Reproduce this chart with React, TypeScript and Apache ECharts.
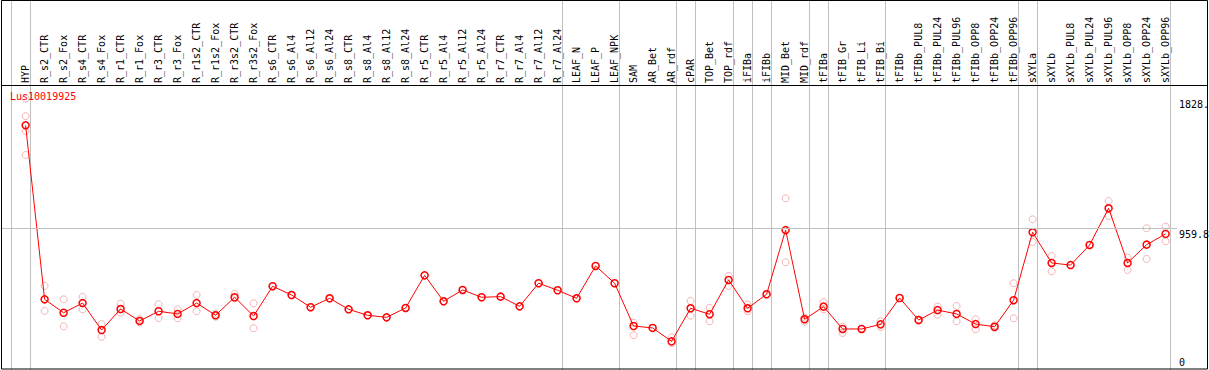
import React, { useEffect, useRef } from 'react';
import * as echarts from 'echarts';

const geneName = 'Lus10019925';

const categories = [
  'HYP', 'R_s2_CTR', 'R_s2_Fox', 'R_s4_CTR', 'R_s4_Fox', 'R_r1_CTR', 'R_r1_Fox', 'R_r3_CTR', 'R_r3_Fox',
  'R_r1s2_CTR', 'R_r1s2_Fox', 'R_r3s2_CTR', 'R_r3s2_Fox', 'R_s6_CTR', 'R_s6_Al4', 'R_s6_Al12', 'R_s6_Al24',
  'R_s8_CTR', 'R_s8_Al4', 'R_s8_Al12', 'R_s8_Al24', 'R_r5_CTR', 'R_r5_Al4', 'R_r5_Al12', 'R_r5_Al24',
  'R_r7_CTR', 'R_r7_Al4', 'R_r7_Al12', 'R_r7_Al24', 'LEAF_N', 'LEAF_P', 'LEAF_NPK', 'SAM', 'AR_Bet', 'AR_rdf',
  'cPAR', 'TOP_Bet', 'TOP_rdf', 'iFIBa', 'iFIBb', 'MID_Bet', 'MID_rdf', 'tFIBa', 'tFIB_Gr', 'tFIB_Li', 'tFIB_Bi',
  'tFIBb', 'tFIBb_PUL8', 'tFIBb_PUL24', 'tFIBb_PUL96', 'tFIBb_OPP8', 'tFIBb_OPP24', 'tFIBb_OPP96',
  'sXYLa', 'sXYLb', 'sXYLb_PUL8', 'sXYLb_PUL24', 'sXYLb_PUL96', 'sXYLb_OPP8', 'sXYLb_OPP24', 'sXYLb_OPP96',
];

const means = [
  1649, 481, 391, 456, 275, 416, 336, 401, 383,
  456, 374, 495, 369, 569, 510, 428, 488,
  414, 374, 360, 423, 642, 468, 544, 495,
  499, 434, 589, 542, 488, 705, 589, 302, 289, 199,
  421, 381, 611, 421, 515, 946, 347, 432, 282, 282, 313,
  490, 342, 409, 383, 315, 297, 475,
  931, 725, 711, 846, 1092, 725, 848, 920,
];

const replicates = [
  [1828.2, 1710, 1611, 1450], [571, 403], [481, 300], [497, 414], [315, 230], [452, 391], [349, 327], [448, 356], [414, 354],
  [510, 401], [383, 364], [517, 488], [454, 287], [569], [510], [428], [488],
  [414], [374], [360], [423], [642], [468], [544], [495],
  [499], [434], [589], [542], [488], [705], [589], [324, 240], [289], [226, 186],
  [470, 371], [423, 334], [638, 571], [445, 401], [515], [1159, 730], [358, 331], [463, 414], [255, 297], [282], [334, 295],
  [490], [338, 346], [432, 378], [436, 334], [347, 280], [307, 289], [589, 354],
  [1018, 866], [772, 669], [711], [846], [1141, 1040], [760, 678], [958, 752], [969, 871],
];

// indices of the last category of each group (-1 = before the first one)
const groupEnds = [-1, 0, 28, 31, 34, 35, 37, 38, 39, 41, 42, 45, 52, 53, 60];

const FONT = 'DejaVu Sans Mono, monospace';

export default function App() {
  const ref = useRef<HTMLDivElement>(null);

  useEffect(() => {
    const chart = echarts.init(ref.current!, null, { renderer: 'svg' });
    const maxVal = Math.max(...replicates.flat(), ...means);
    const yTop = maxVal * 1.05;
    const yLabels = [0, yTop / 2, maxVal];
    const fmtY = (v: number) => (v === 0 ? '{lo|0}' : `{hi|${String(v).slice(0, 5)}}`);

    const repData: number[][] = [];
    replicates.forEach((arr, i) => arr.forEach((v) => repData.push([i, v])));

    chart.setOption({
      animation: false,
      textStyle: { fontFamily: FONT },
      title: {
        text: geneName,
        left: 10,
        top: 91,
        padding: 0,
        textStyle: { color: '#ff0000', fontSize: 10, fontWeight: 'normal', fontFamily: FONT },
      },
      grid: {
        left: 2.04,
        top: 85,
        width: 1174.96,
        height: 286,
        containLabel: false,
        outerBoundsMode: 'none',
      },
      xAxis: {
        type: 'value',
        position: 'top',
        min: -1.24,
        max: 60.6,
        axisLine: { show: false },
        axisTick: { show: false },
        splitLine: { show: false },
        axisLabel: {
          customValues: categories.map((_, i) => i),
          formatter: (v: number) => categories[Math.round(v)] ?? '',
          rotate: 90,
          margin: 2,
          color: '#000',
          fontSize: 10,
          fontFamily: FONT,
        },
      },
      yAxis: {
        type: 'value',
        position: 'right',
        min: 0,
        max: yTop,
        axisLine: { show: false },
        axisTick: { show: false },
        splitLine: { show: false },
        axisLabel: {
          customValues: yLabels,
          formatter: fmtY,
          margin: 2,
          color: '#000',
          fontSize: 10,
          fontFamily: FONT,
          rich: {
            hi: { padding: [12, 0, 0, 0], fontSize: 10, fontFamily: FONT, color: '#000' },
            lo: { padding: [0, 0, 18, 0], fontSize: 10, fontFamily: FONT, color: '#000' },
          },
        },
      },
      graphic: [
        {
          type: 'line',
          silent: true,
          z: 50,
          shape: { x1: 1, y1: 85.5, x2: 1208, y2: 85.5 },
          style: { stroke: '#000', lineWidth: 1 },
        },
        {
          type: 'rect',
          silent: true,
          z: 50,
          shape: { x: 1.5, y: 0.5, width: 1206, height: 368.5 },
          style: { fill: 'none', stroke: '#000', lineWidth: 1 },
        },
      ],
      series: [
        {
          type: 'custom',
          silent: true,
          z: 1,
          clip: false,
          data: groupEnds.map((i) => [i + 0.25, 0]),
          encode: { x: 0, y: 1 },
          renderItem: (_params: any, api: any) => {
            const x = api.coord([api.value(0), 0])[0];
            const px = Math.floor(x) + 0.5;
            return {
              type: 'line',
              shape: { x1: px, y1: 0, x2: px, y2: 370 },
              style: { stroke: '#c0c0c0', lineWidth: 1 },
            };
          },
        },
        {
          type: 'scatter',
          silent: true,
          z: 2,
          data: repData,
          symbol: 'circle',
          symbolSize: 7,
          itemStyle: { color: 'rgba(0,0,0,0)', borderColor: '#f0a0a0', borderWidth: 1 },
          markLine: {
            silent: true,
            symbol: ['none', 'none'],
            label: { show: false },
            lineStyle: { color: '#c0c0c0', type: 'solid', width: 1 },
            data: [{ yAxis: yTop / 2 }],
          },
        },
        {
          type: 'line',
          silent: true,
          z: 4,
          data: means.map((v, i) => [i, v]),
          symbol: 'circle',
          symbolSize: 7,
          showAllSymbol: true,
          itemStyle: { color: 'rgba(0,0,0,0)', borderColor: '#ff0000', borderWidth: 1.5 },
          lineStyle: { color: '#ff0000', width: 1 },
        },
      ],
    });

    return () => chart.dispose();
  }, []);

  return (
    <div
      ref={ref}
      style={{ position: 'absolute', left: 0, top: 0, width: 1209, height: 370 }}
    />
  );
}
